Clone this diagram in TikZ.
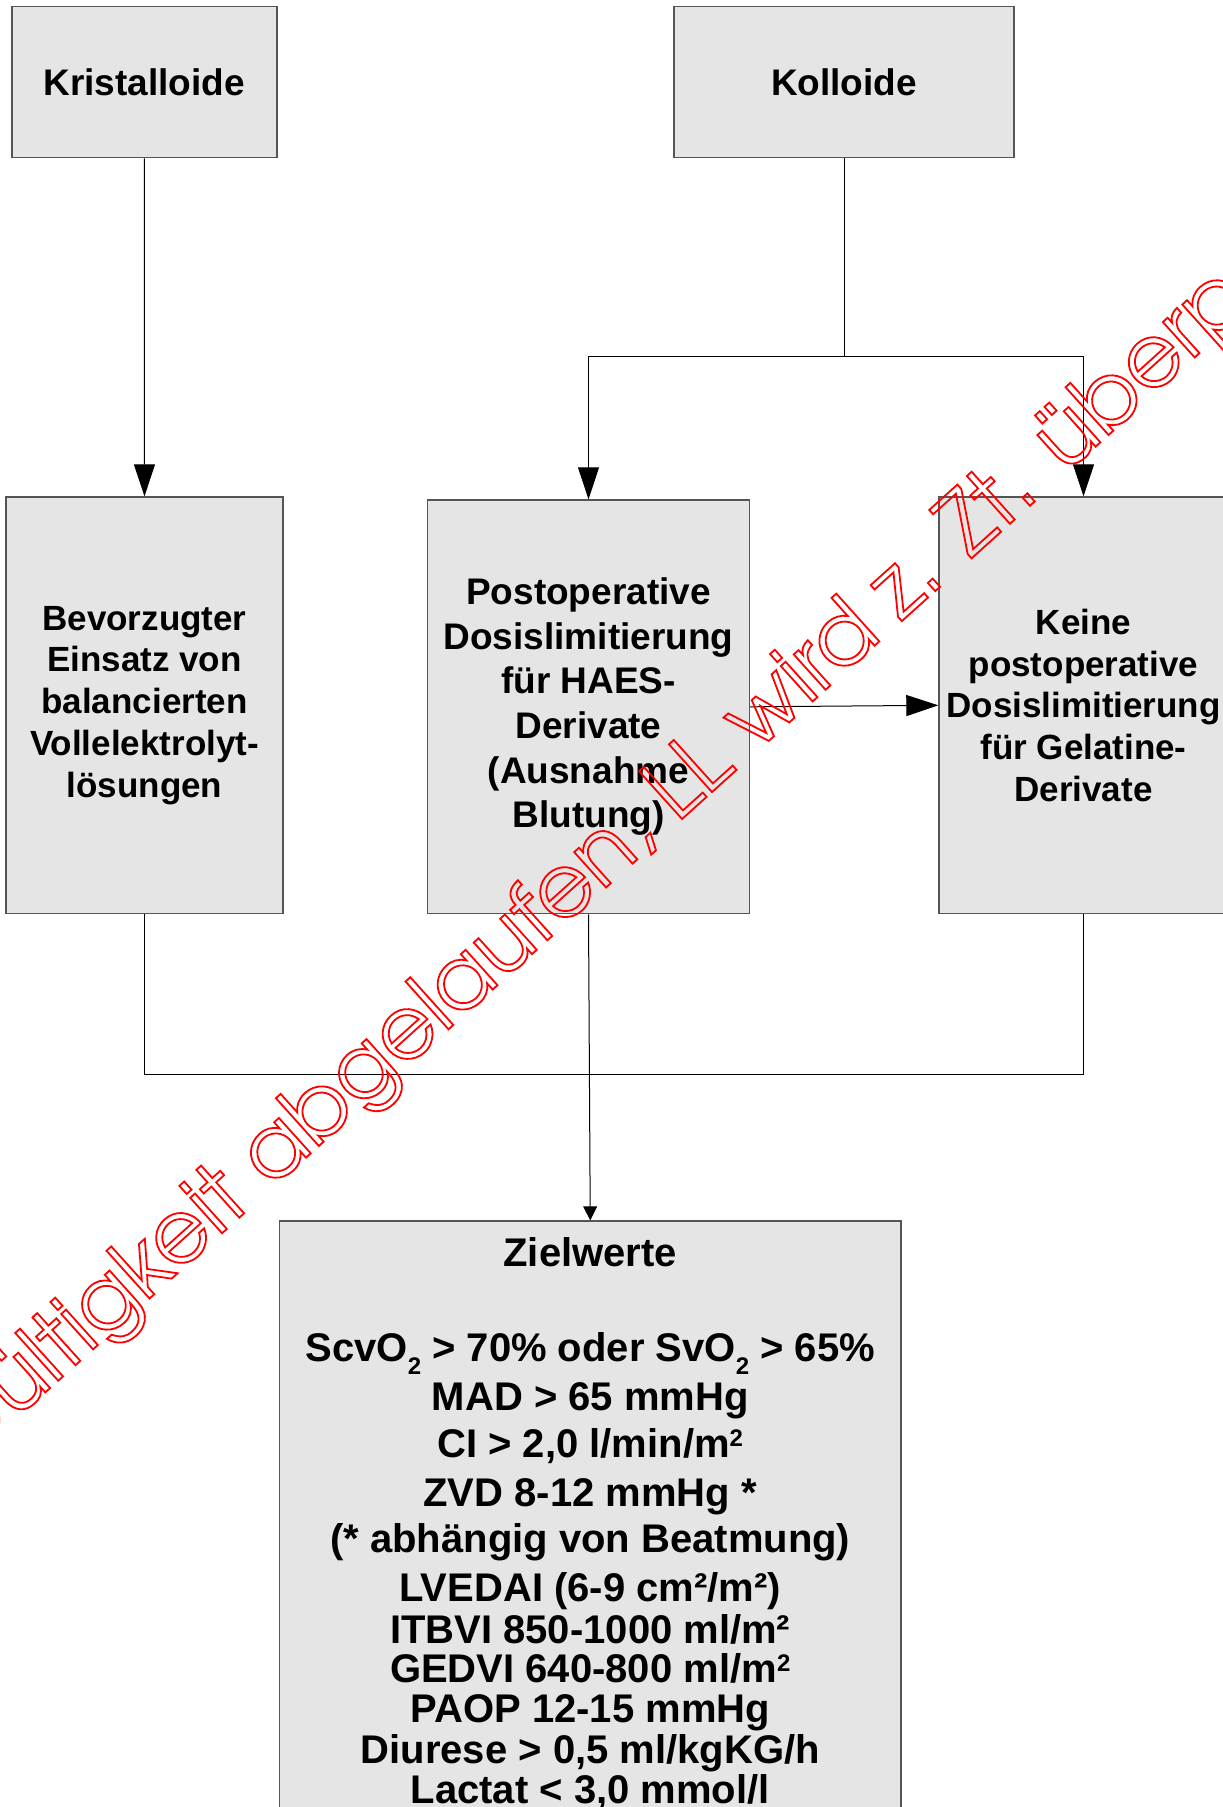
\documentclass[tikz,border=0pt]{standalone}
\usepackage{fontspec}
\setmainfont{Liberation Sans}
\newfontfamily\wmfont{texgyreadventor-regular.otf}
\usetikzlibrary{arrows.meta}
\definecolor{boxfill}{HTML}{E5E5E5}
\definecolor{boxline}{HTML}{555555}
% lowered / raised small "2" for O2 and m2
\newcommand\lowtwo{\raisebox{-13pt}{\fontsize{24}{24}\selectfont 2}}
\newcommand\hightwo{\raisebox{11pt}{\fontsize{24}{24}\selectfont 2}}
% glyphs drawn as outlines only (text render mode 1)
\newcommand\outlinetext[1]{\special{pdf:literal direct 1 Tr 1.8 w}#1\special{pdf:literal direct 0 Tr 1 w}}

\begin{document}
\begin{tikzpicture}[x=1pt,y=-1pt,
  box/.style={draw=boxline, line width=1.4pt, fill=boxfill, inner sep=0pt, align=center},
  bigtext/.style={font=\fontsize{37}{44.6}\bfseries},
  midtext/.style={font=\fontsize{35}{41.8}\bfseries},
  link/.style={draw=black, line width=1pt},
  bigtip/.style={link, -{Triangle[length=32pt,width=21pt]}},
  smalltip/.style={link, -{Triangle[length=14pt,width=14pt]}},
  zline/.style={anchor=base, inner sep=0pt, font=\fontsize{40}{48}\bfseries},
  wm/.style={inner sep=0pt, anchor=base west, text=red, font=\fontsize{87}{87}\wmfont}
]
\useasboundingbox (0,0) rectangle (1223,1807);

% top row
\node[box, bigtext, minimum width=265pt, minimum height=151pt] (krist) at (144.3,82.2) {Kristalloide};
\node[box, bigtext, minimum width=340pt, minimum height=151pt] (koll) at (844,82.2) {Kolloide};

% middle row
\node[box, midtext, minimum width=277pt, minimum height=416.6pt] (bev) at (144.5,705.3)
  {Bevorzugter\\Einsatz von\\balancierten\\Vollelektrolyt-\\lösungen};
\node[box, bigtext, minimum width=322pt, minimum height=413.6pt] (haes) at (588.5,706.8)
  {Postoperative\\Dosislimitierung\\für HAES-\\Derivate\\(Ausnahme\\Blutung)};
\node[box, midtext, minimum width=289pt, minimum height=416.6pt] (keine) at (1083.5,705.3)
  {Keine\\postoperative\\Dosislimitierung\\für Gelatine-\\Derivate};

% target values box
\node[box, minimum width=621.5pt, minimum height=629pt] (ziel) at (590.25,1535.5) {};
\node[zline] (z0) at (590.25,1266.7) {Zielwerte};
\node[zline] (z1) at (590.25,1361.7) {ScvO\lowtwo{} > 70\% oder SvO\lowtwo{} > 65\%};
\node[zline] (z2) at (590.25,1410.7) {MAD > 65 mmHg};
\node[zline] (z3) at (590.25,1457.3) {CI > 2,0 l/min/m\hightwo};
\node[zline] (z4) at (590.25,1506) {ZVD 8-12 mmHg *};
\node[zline] (z5) at (590.25,1552.7) {(* abhängig von Beatmung)};
\node[zline] (z6) at (590.25,1601.7) {LVEDAI (6-9 cm²/m²)};
\node[zline] (z7) at (590.25,1643.3) {ITBVI 850-1000 ml/m²};
\node[zline] (z8) at (590.25,1682.7) {GEDVI 640-800 ml/m\hightwo};
\node[zline] (z9) at (590.25,1722.7) {PAOP 12-15 mmHg};
\node[zline] (z10) at (590.25,1763.3) {Diurese > 0,5 ml/kgKG/h};
\node[zline] (z11) at (590.25,1803.3) {Lactat < 3,0 mmol/l};

% connectors
\coordinate (kj) at (844,356);
\coordinate (jl) at (bev.south |- 0,1074);
\coordinate (jr) at (keine.south |- 0,1074);
\draw[bigtip] (krist.south) -- (bev.north);
\draw[link] (koll.south) -- (kj);
\draw[bigtip] (kj) -| (haes.north);
\draw[bigtip] (kj) -| (keine.north);
\draw[bigtip] (haes.east) -- (keine.west);
\draw[link] (bev.south) -- (jl) -- (jr) -- (keine.south);
\draw[smalltip] (haes.south) -- (ziel.north);

% validity stamp across the page
\node[wm, rotate=42] (stamp) at (270.6,1189.5)
  {\outlinetext{\llap{Gültigkeit }abgelaufen, LL wird z. Zt. überprüft}};
\end{tikzpicture}
\end{document}
